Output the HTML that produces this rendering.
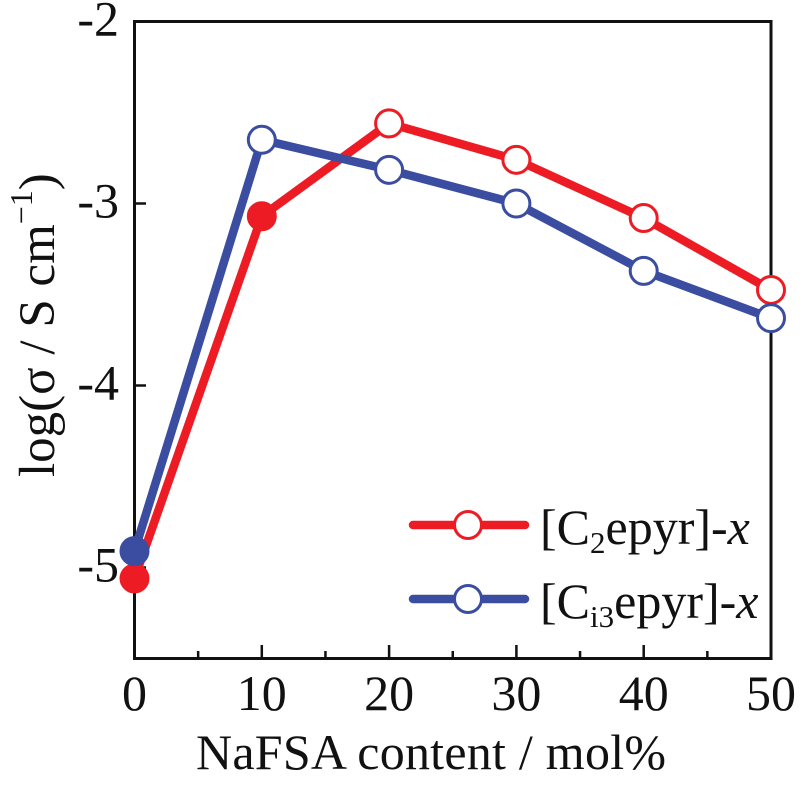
<!DOCTYPE html>
<html>
<head>
<meta charset="utf-8">
<style>
html,body{margin:0;padding:0;background:#fff;}
svg{display:block;}
text{font-family:"Liberation Serif",serif;fill:#111;}
</style>
</head>
<body>
<svg id="chart" xmlns="http://www.w3.org/2000/svg" width="800" height="786" viewBox="0 0 800 786">
<rect x="134.5" y="21.5" width="636.5" height="637" fill="none" stroke="#111" stroke-width="3"/>
<g id="ticks"></g>
<g id="labels"></g>
<g id="series"></g>
<text x="431" y="769" font-size="50" text-anchor="middle" textLength="470" lengthAdjust="spacing">NaFSA content / mol%</text>
<text transform="translate(54,477) rotate(-90)" font-size="51">log(σ / S cm<tspan font-size="32" dy="-22">−1</tspan><tspan dy="22">)</tspan></text>
<g>
<g>
<line x1="413" y1="525" x2="525" y2="525" stroke="#ed1c24" stroke-width="8.5" stroke-linecap="round"/>
<circle cx="468" cy="525" r="13.5" fill="#fff" stroke="#ed1c24" stroke-width="3"/>
<text x="540" y="544" font-size="50">[C<tspan font-size="31" dy="9">2</tspan><tspan dy="-9">epyr]-</tspan><tspan font-style="italic">x</tspan></text>
</g>
<g>
<line x1="413" y1="599" x2="525" y2="599" stroke="#3a4da0" stroke-width="8.5" stroke-linecap="round"/>
<circle cx="468" cy="599" r="13.5" fill="#fff" stroke="#3a4da0" stroke-width="3"/>
<text x="540" y="618" font-size="50">[C<tspan font-size="31" dy="9">i3</tspan><tspan dy="-9">epyr]-</tspan><tspan font-style="italic">x</tspan></text>
</g>
</g>
</svg>
<script>
var contents = [0, 10, 20, 30, 40, 50];
var c2epyr = [-5.06, -3.07, -2.56, -2.76, -3.08, -3.475];
var ci3epyr = [-4.91, -2.65, -2.815, -3.0, -3.37, -3.63];
var c2epyrFilled = [true, true, false, false, false, false];
var ci3epyrFilled = [true, false, false, false, false, false];
var xTickLabels = [0, 10, 20, 30, 40, 50];
var xMinorTicks = [5, 15, 25, 35, 45];
var yTickLabels = [-2, -3, -4, -5];

var NS = 'http://www.w3.org/2000/svg';
function xScale(v) { return 134.5 + v * (636.5 / 50); }
function yScale(v) { return 21.5 + (-2 - v) * 182; }
function make(tag, attrs, parent) {
  var el = document.createElementNS(NS, tag);
  for (var k in attrs) el.setAttribute(k, attrs[k]);
  parent.appendChild(el);
  return el;
}
var ticks = document.getElementById('ticks');
var labels = document.getElementById('labels');
var series = document.getElementById('series');

xTickLabels.forEach(function (v) {
  var t = make('line', {x1: xScale(v), x2: xScale(v), y1: 658.5, y2: 645, stroke: '#111', 'stroke-width': 2.5}, ticks);
  
  
  var l = make('text', {x: xScale(v), y: 710, 'font-size': 50, 'text-anchor': 'middle'}, labels);
  
  
  l.textContent = v;
});
xMinorTicks.forEach(function (v) {
  var t = make('line', {x1: xScale(v), x2: xScale(v), y1: 658.5, y2: 651, stroke: '#111', 'stroke-width': 2.5}, ticks);
  
  
});
yTickLabels.forEach(function (v) {
  var t = make('line', {x1: 134.5, x2: 146, y1: yScale(v), y2: yScale(v), stroke: '#111', 'stroke-width': 2.5}, ticks);
  
  
  var l = make('text', {x: 119, y: yScale(v) + 14, 'font-size': 50, 'text-anchor': 'end'}, labels);
  
  
  l.textContent = String(v);
});
function drawSeries(values, filled, color, name) {
  var g = make('g', {}, series);
  
  
  var pts = values.map(function (v, i) { return xScale(contents[i]) + ',' + yScale(v); }).join(' ');
  var p = make('polyline', {points: pts, fill: 'none', stroke: color, 'stroke-width': 8.5, 'stroke-linejoin': 'round'}, g);
  
  
  values.forEach(function (v, i) {
    var c = make('circle', {
      cx: xScale(contents[i]), cy: yScale(v), r: 13.5,
      fill: filled[i] ? color : '#fff', stroke: color, 'stroke-width': 3
    }, g);
    
    
  });
}
drawSeries(c2epyr, c2epyrFilled, '#ed1c24', 'series-c2epyr');
drawSeries(ci3epyr, ci3epyrFilled, '#3a4da0', 'series-ci3epyr');
</script>
</body>
</html>
